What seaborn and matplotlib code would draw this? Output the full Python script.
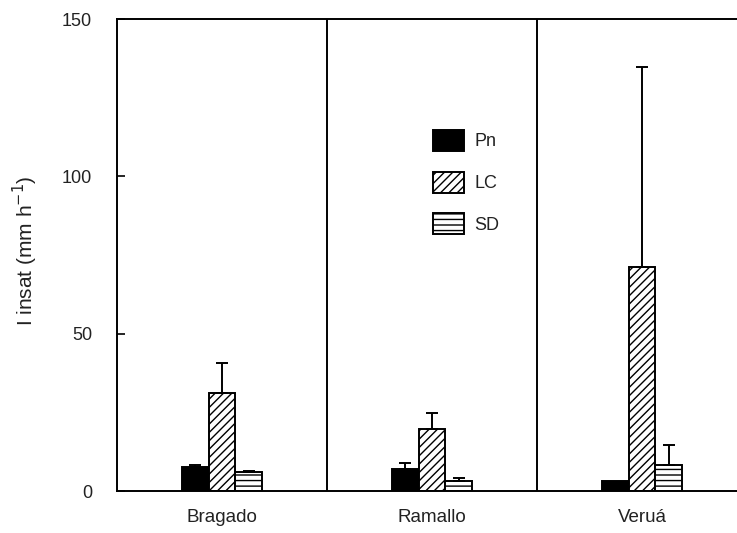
import matplotlib
matplotlib.use("Agg")
import matplotlib.pyplot as plt
import seaborn as sns
import pandas as pd
import numpy as np
from matplotlib.patches import Patch

# Infiltration at saturation per site and management
sites = ["Bragado", "Ramallo", "Veruá"]
treatments = ["Pn", "LC", "SD"]
pn_vals = [7.6, 7.0, 3.2]
pn_err = [0.8, 1.8, 0.0]
lc_vals = [31.2, 19.6, 71.2]
lc_err = [9.4, 5.1, 63.5]
sd_vals = [5.9, 3.3, 8.2]
sd_err = [0.5, 0.9, 6.4]
yticks = [0, 50, 100, 150]

sns.set_theme(style="white")
plt.rcParams["font.family"] = ["Liberation Sans", "DejaVu Sans"]
plt.rcParams["hatch.linewidth"] = 1.0
plt.rcParams["hatch.color"] = "black"

values = {"Pn": pn_vals, "LC": lc_vals, "SD": sd_vals}
errors = {"Pn": pn_err, "LC": lc_err, "SD": sd_err}
rows = []
for t in treatments:
    for s, v, e in zip(sites, values[t], errors[t]):
        rows.append({"site": s, "treatment": t, "value": v, "err": e})
df = pd.DataFrame(rows)

fills = {"Pn": "black", "LC": "white", "SD": "white"}
hatches = {"Pn": None, "LC": "////", "SD": "---"}

fig = plt.figure(figsize=(7.37, 5.33), dpi=100)
ax = fig.add_axes([117 / 737, 1 - 491 / 533, 630 / 737, 472 / 533])

sns.barplot(data=df, x="site", y="value", hue="treatment", order=sites,
            hue_order=treatments, palette=fills, width=0.38, saturation=1,
            edgecolor="black", linewidth=1.4, errorbar=None, legend=False,
            ax=ax)

for t, cont in zip(treatments, ax.containers):
    sub = df[df.treatment == t].set_index("site").loc[sites]
    xs, tops = [], []
    for bar in cont:
        if hatches[t]:
            bar.set_hatch(hatches[t])
        xs.append(bar.get_x() + bar.get_width() / 2)
        tops.append(bar.get_height())
    errs = sub["err"].to_numpy()
    mask = errs > 0
    ax.errorbar(np.array(xs)[mask], np.array(tops)[mask],
                yerr=[np.zeros(mask.sum()), errs[mask]], fmt="none",
                ecolor="black", elinewidth=1.4, capsize=4.5, capthick=1.4,
                zorder=1)

ax.set_xlim(-0.5, 2.5)
ax.set_ylim(0, 150)
ax.set_yticks(yticks)
ax.set_yticklabels([str(v) for v in yticks])
for sep in (0.5, 1.5):
    ax.axvline(sep, color="black", lw=1.4)

for sp in ax.spines.values():
    sp.set_color("black")
    sp.set_linewidth(1.4)
    sp.set_visible(True)

ax.tick_params(axis="y", direction="in", length=6, width=1.2, pad=18,
               labelsize=13, left=True, colors="black", labelcolor="#222222")
ax.tick_params(axis="x", length=0, pad=13, labelsize=13.5, labelcolor="#222222")
ax.set_xlabel("")
ax.set_ylabel("I insat (mm h$^{-1}$)", fontsize=15, color="#222222")
ax.yaxis.set_label_coords(-0.122, 0.51)

handles = [Patch(facecolor=fills[t], edgecolor="black", hatch=hatches[t],
                 linewidth=1.4) for t in treatments]
ax.legend(handles, treatments, loc="upper left", bbox_to_anchor=(0.49, 0.78),
          frameon=False, fontsize=13, handlelength=1.7, handleheight=1.4,
          labelspacing=1.15, handletextpad=0.6, borderaxespad=0,
          labelcolor="#222222")

fig.savefig("out.png", dpi=100)
